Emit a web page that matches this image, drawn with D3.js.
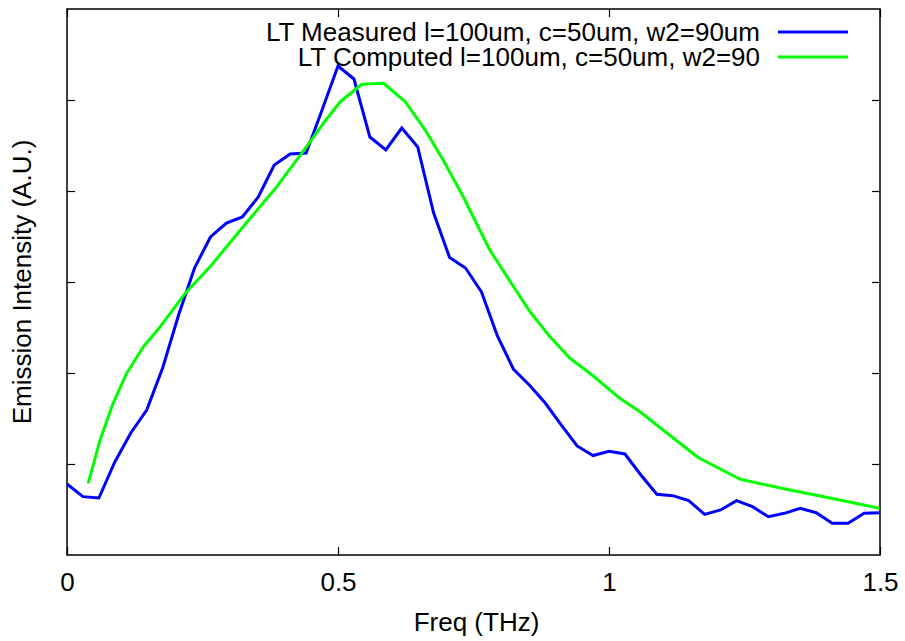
<!DOCTYPE html>
<html lang="en">
    <head>
        <meta charset="utf-8"/>
        <script src="https://d3js.org/d3.v7.min.js"></script>
        <style>
            body { margin: 0; background: #fff; }
            text { font-family: "Liberation Sans", Arial, sans-serif; fill: #000; }
        </style>
    </head>
    <body>
        <div id="chart"></div>
    </body>
    <script>
        // measured spectrum, 52 samples from 0 to 1.5 THz
        var measuredFreq = d3.range(52).map(function (i) { return i * 1.5 / 51; });
        var measuredVal = [
            0.780, 0.641, 0.626, 1.022, 1.341, 1.593, 2.055, 2.637, 3.154, 3.495,
            3.648, 3.714, 3.934, 4.286, 4.407, 4.418, 4.890, 5.374, 5.231, 4.593,
            4.451, 4.692, 4.484, 3.758, 3.269, 3.154, 2.890, 2.407, 2.044, 1.868,
            1.670, 1.429, 1.198, 1.093, 1.140, 1.110, 0.879, 0.667, 0.652, 0.597,
            0.447, 0.495, 0.597, 0.531, 0.421, 0.458, 0.513, 0.465, 0.348, 0.348,
            0.458, 0.465
        ];

        // computed curve
        var computedFreq = [
            0.039, 0.061, 0.085, 0.110, 0.141, 0.172, 0.218, 0.264, 0.325, 0.387,
            0.442, 0.473, 0.504, 0.544, 0.584, 0.624, 0.661, 0.694, 0.731, 0.780,
            0.830, 0.854, 0.891, 0.928, 0.971, 1.020, 1.057, 1.088, 1.165, 1.242,
            1.334, 1.426, 1.499
        ];
        var computedVal = [
            0.788, 1.264, 1.667, 1.997, 2.289, 2.509, 2.876, 3.168, 3.608, 4.047,
            4.487, 4.744, 4.981, 5.173, 5.184, 4.981, 4.670, 4.341, 3.937, 3.352,
            2.893, 2.674, 2.399, 2.162, 1.967, 1.722, 1.575, 1.429, 1.069, 0.832,
            0.714, 0.604, 0.513
        ];

        var xTicks = [0, 0.5, 1, 1.5];
        var xTickLabels = ["0", "0.5", "1", "1.5"];
        var yTicks = [1, 2, 3, 4, 5];

        var seriesNames = [
            "LT Measured l=100um, c=50um, w2=90um",
            "LT Computed l=100um, c=50um, w2=90"
        ];
        var seriesColors = ["#0000ff", "#00ff00"];

        var fontSize = 26;

        var margin = {top: 9, right: 25, bottom: 86, left: 67};
        var width = 905 - margin.left - margin.right;
        var height = 641 - margin.top - margin.bottom;

        var svg = d3.select("#chart")
            .append("svg")
                .attr("width", 905)
                .attr("height", 641)
            .append("g")
                .attr("transform", "translate(" + margin.left + "," + margin.top + ")");

        var x = d3.scaleLinear().domain([0, 1.5]).range([0, width]);
        var y = d3.scaleLinear().domain([0, 6]).range([height, 0]);

        var tickLen = 8;

        // x ticks (bottom and mirrored top)
        svg.append("g")
            .attr("transform", "translate(0," + height + ")")
            .call(d3.axisBottom(x).tickValues(xTicks).tickSizeInner(-tickLen).tickSizeOuter(0)
                .tickFormat(function (d, i) { return xTickLabels[i]; }))
            .call(function (g) {
                g.select(".domain").remove();
                g.selectAll("line").attr("stroke", "#000").attr("stroke-width", 1.2);
                g.selectAll("text").attr("font-size", fontSize).attr("dy", 0).attr("y", 36);
            });
        svg.append("g")
            .call(d3.axisTop(x).tickValues(xTicks).tickSizeInner(-tickLen).tickSizeOuter(0).tickFormat(""))
            .call(function (g) {
                g.select(".domain").remove();
                g.selectAll("line").attr("stroke", "#000").attr("stroke-width", 1.2);
            });

        // y ticks (left and mirrored right), no labels
        svg.append("g")
            .call(d3.axisLeft(y).tickValues(yTicks).tickSizeInner(-tickLen).tickSizeOuter(0).tickFormat(""))
            .call(function (g) {
                g.select(".domain").remove();
                g.selectAll("line").attr("stroke", "#000").attr("stroke-width", 1.2);
            });
        svg.append("g")
            .attr("transform", "translate(" + width + ",0)")
            .call(d3.axisRight(y).tickValues(yTicks).tickSizeInner(-tickLen).tickSizeOuter(0).tickFormat(""))
            .call(function (g) {
                g.select(".domain").remove();
                g.selectAll("line").attr("stroke", "#000").attr("stroke-width", 1.2);
            });

        // frame
        svg.append("rect")
            .attr("x", 0).attr("y", 0)
            .attr("width", width).attr("height", height)
            .attr("fill", "none")
            .attr("stroke", "#000")
            .attr("stroke-width", 1.5);

        // axis titles
        svg.append("text")
            .attr("x", width / 2 + 3)
            .attr("y", height + 76)
            .attr("text-anchor", "middle")
            .attr("font-size", fontSize)
            .text("Freq (THz)");
        svg.append("text")
            .attr("transform", "translate(" + (-36) + "," + (height / 2) + ")rotate(-90)")
            .attr("text-anchor", "middle")
            .attr("font-size", fontSize)
            .text("Emission Intensity (A.U.)");

        // legend
        var legend = svg.append("g")
            .attr("transform", "translate(" + (width - 120) + ",23)");
        seriesNames.forEach(function (name, i) {
            legend.append("text")
                .attr("x", 0)
                .attr("y", i * 25)
                .attr("dy", "0.35em")
                .attr("text-anchor", "end")
                .attr("font-size", fontSize)
                .text(name);
            legend.append("line")
                .attr("x1", 18).attr("x2", 88)
                .attr("y1", i * 25).attr("y2", i * 25)
                .attr("stroke", seriesColors[i])
                .attr("stroke-width", 3);
        });

        var measured = measuredFreq.map(function (f, i) { return [f, measuredVal[i]]; });
        var computed = computedFreq.map(function (f, i) { return [f, computedVal[i]]; });

        var line = d3.line()
            .x(function (d) { return x(d[0]); })
            .y(function (d) { return y(d[1]); });

        svg.append("path")
            .datum(measured)
            .attr("d", line)
            .attr("fill", "none")
            .attr("stroke", seriesColors[0])
            .attr("stroke-width", 3)
            .attr("stroke-linejoin", "miter");

        svg.append("path")
            .datum(computed)
            .attr("d", line)
            .attr("fill", "none")
            .attr("stroke", seriesColors[1])
            .attr("stroke-width", 3)
            .attr("stroke-linejoin", "round");
    </script>
</html>
